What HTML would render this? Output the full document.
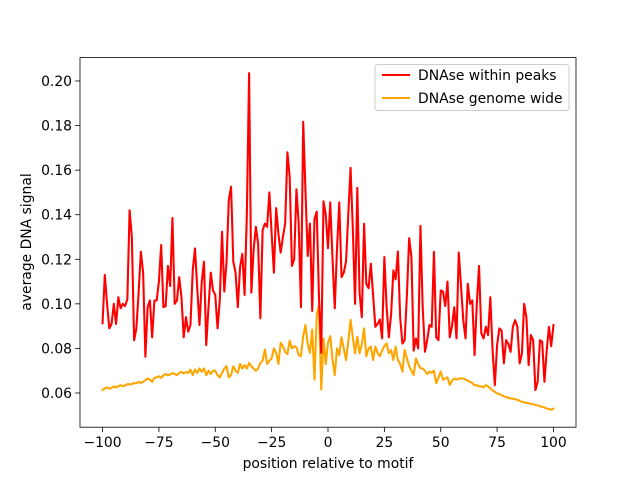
<!DOCTYPE html>
<html><head><meta charset="utf-8"><style>
html,body{margin:0;padding:0;background:#fff;}
svg{display:block;font-family:"DejaVu Sans","Liberation Sans",sans-serif;}
</style></head><body>
<svg id="chart" width="640" height="480" viewBox="0 0 640 480">
<rect x="0" y="0" width="640" height="480" fill="#fff"/>
<g id="plot"></g>
<rect x="80" y="57.6" width="496" height="369.6" fill="none" stroke="#000" stroke-width="0.8"/>
<g id="ticks"></g>
<text x="328" y="468" font-size="13.9" text-anchor="middle">position relative to motif</text>
<text transform="translate(31,242) rotate(-90)" font-size="13.9" text-anchor="middle">average DNA signal</text>
<g>
<rect x="375" y="64.5" width="194" height="46" rx="3" fill="#fff" fill-opacity="0.8" stroke="#ccc" stroke-width="1"/>
<g>
<line x1="382" y1="75" x2="410" y2="75" stroke="#ff0000" stroke-width="2"/>
<text x="418" y="80" font-size="13.9">DNAse within peaks</text>
</g>
<g>
<line x1="382" y1="98" x2="410" y2="98" stroke="#ffa500" stroke-width="2"/>
<text x="418" y="103" font-size="13.9">DNAse genome wide</text>
</g>
</g>
</svg>
<script>
const xStart = -100;
const peaks = [
.0913,.113,.100,.089,.091,.100,.091,.103,.098,.100,
.099,.102,.142,.130,.0837,.089,.105,.1234,.114,.0763,
.0985,.1015,.085,.1015,.1015,.110,.1264,.0985,.099,.117,
.108,.1385,.100,.1015,.112,.103,.085,.094,.0875,.0905,
.115,.1249,.107,.0905,.110,.1189,.0815,.0985,.114,.106,
.104,.089,.1015,.1324,.1055,.119,.1466,.1526,.119,.114,
.0985,.1165,.1224,.104,.140,.2035,.105,.124,.1346,.127,
.0935,.133,.136,.1346,.150,.1315,.114,.143,.1315,.123,
.130,.136,.168,.157,.117,.120,.1514,.136,.0985,.1817,
.151,.1215,.136,.0968,.138,.1414,.103,.078,.146,.140,
.125,
.1455,.120,.098,.125,.1455,.112,.114,.119,.140,.161,
.134,.100,.152,.105,.094,.136,.109,.107,.118,.104,
.0897,.091,.093,.0845,.121,.0985,.085,.0955,.115,.111,
.1235,.094,.0822,.0837,.104,.1295,.121,.079,.0845,.080,
.135,.0985,.0785,.0837,.0905,.0897,.1233,.085,.0837,.106,
.1055,.099,.110,.085,.090,.0985,.0845,.123,.108,.0927,
.0845,.109,.100,.1015,.077,.100,.117,.0867,.0845,.0897,
.086,.103,.079,.0635,.0815,.089,.088,.0733,.0837,.082,
.0785,.0897,.0927,.0897,.0733,.0777,.100,.094,.0725,.086,
.0837,.0613,.065,.0837,.083,.065,.079,.0897,.081,.0905
];
const genome = [
.0613,.062,.0625,.062,.0622,.063,.0625,.063,.0635,.063,
.0633,.064,.0638,.064,.0645,.0643,.065,.0645,.065,.0658,
.0665,.066,.065,.0668,.067,.0675,.0668,.068,.0685,.068,
.0683,.069,.0685,.068,.069,.0695,.0688,.0695,.069,.0705,
.068,.0705,.069,.071,.0695,.071,.068,.070,.0685,.070,
.070,.068,.067,.069,.071,.072,.067,.068,.072,.070,
.069,.073,.071,.0725,.071,.0735,.072,.071,.070,.071,
.0735,.0745,.0795,.073,.0745,.0755,.080,.078,.073,.0825,
.081,.0785,.0775,.0835,.080,.081,.0805,.077,.0765,.0855,
.0905,.082,.078,.0885,.066,.095,.0995,.0615,.0845,.073,
.0825,
.0855,.075,.068,.080,.077,.085,.080,.0748,.083,.0928,
.085,.0778,.0853,.0778,.082,.089,.0765,.080,.0808,.0748,
.0808,.078,.0765,.079,.081,.0823,.0778,.0793,.0748,.0808,
.0748,.073,.0696,.0793,.0755,.072,.070,.0681,.0755,.073,
.0711,.071,.070,.0685,.0696,.069,.070,.0644,.067,.0696,
.066,.0665,.067,.0636,.0655,.0665,.066,.0665,.0665,.0665,
.066,.0655,.065,.0645,.0635,.0635,.063,.063,.0625,.0635,
.063,.062,.0612,.0605,.0598,.0595,.059,.0585,.0582,.0578,
.0575,.0575,.0572,.057,.0565,.056,.0558,.0555,.0555,.055,
.055,.0545,.0545,.054,.0538,.0535,.053,.0528,.0525,.053
];
const xTicks = [-100,-75,-50,-25,0,25,50,75,100];
const yTicks = [0.06,0.08,0.10,0.12,0.14,0.16,0.18,0.20];
const yTickLabels = ["0.06","0.08","0.10","0.12","0.14","0.16","0.18","0.20"];

const NS = "http://www.w3.org/2000/svg";
const X0 = 80, X1 = 576, Y0 = 427.2, Y1 = 57.6;
const xMin = -110, xMax = 110, yMin = 0.04465, yMax = 0.2105;
function xs(v){ return X0 + (v - xMin) / (xMax - xMin) * (X1 - X0); }
function ys(v){ return Y0 - (v - yMin) / (yMax - yMin) * (Y0 - Y1); }

const plot = document.getElementById('plot');
function series(arr, color, name){
  const pts = arr.map((v,i)=> xs(xStart + i).toFixed(2) + ',' + ys(v).toFixed(2)).join(' ');
  const pl = document.createElementNS(NS,'polyline');
  pl.setAttribute('points', pts);
  pl.setAttribute('fill','none');
  pl.setAttribute('stroke', color);
  pl.setAttribute('stroke-width','2.08');
  pl.setAttribute('stroke-linejoin','round');
  pl.setAttribute('stroke-linecap','square');
  
  
  plot.appendChild(pl);
}
series(genome, '#ffa500', 'line-genome-wide');
series(peaks, '#ff0000', 'line-within-peaks');

const ticks = document.getElementById('ticks');
xTicks.forEach(t=>{
  const x = xs(t);
  const l = document.createElementNS(NS,'line');
  l.setAttribute('x1',x); l.setAttribute('x2',x);
  l.setAttribute('y1',Y0); l.setAttribute('y2',Y0+4.9);
  l.setAttribute('stroke','#000'); l.setAttribute('stroke-width','0.8');
  
  
  ticks.appendChild(l);
  const tx = document.createElementNS(NS,'text');
  tx.setAttribute('x',x); tx.setAttribute('y',Y0+20);
  tx.setAttribute('font-size','13.9'); tx.setAttribute('text-anchor','middle');
  tx.textContent = t < 0 ? '\u2212' + Math.abs(t) : String(t);
  
  
  ticks.appendChild(tx);
});
yTicks.forEach((t,i)=>{
  const y = ys(t);
  const l = document.createElementNS(NS,'line');
  l.setAttribute('x1',X0-4.9); l.setAttribute('x2',X0);
  l.setAttribute('y1',y); l.setAttribute('y2',y);
  l.setAttribute('stroke','#000'); l.setAttribute('stroke-width','0.8');
  
  
  ticks.appendChild(l);
  const tx = document.createElementNS(NS,'text');
  tx.setAttribute('x',X0-8); tx.setAttribute('y',y+5);
  tx.setAttribute('font-size','13.9'); tx.setAttribute('text-anchor','end');
  tx.textContent = yTickLabels[i];
  
  
  ticks.appendChild(tx);
});
</script>
</body></html>
